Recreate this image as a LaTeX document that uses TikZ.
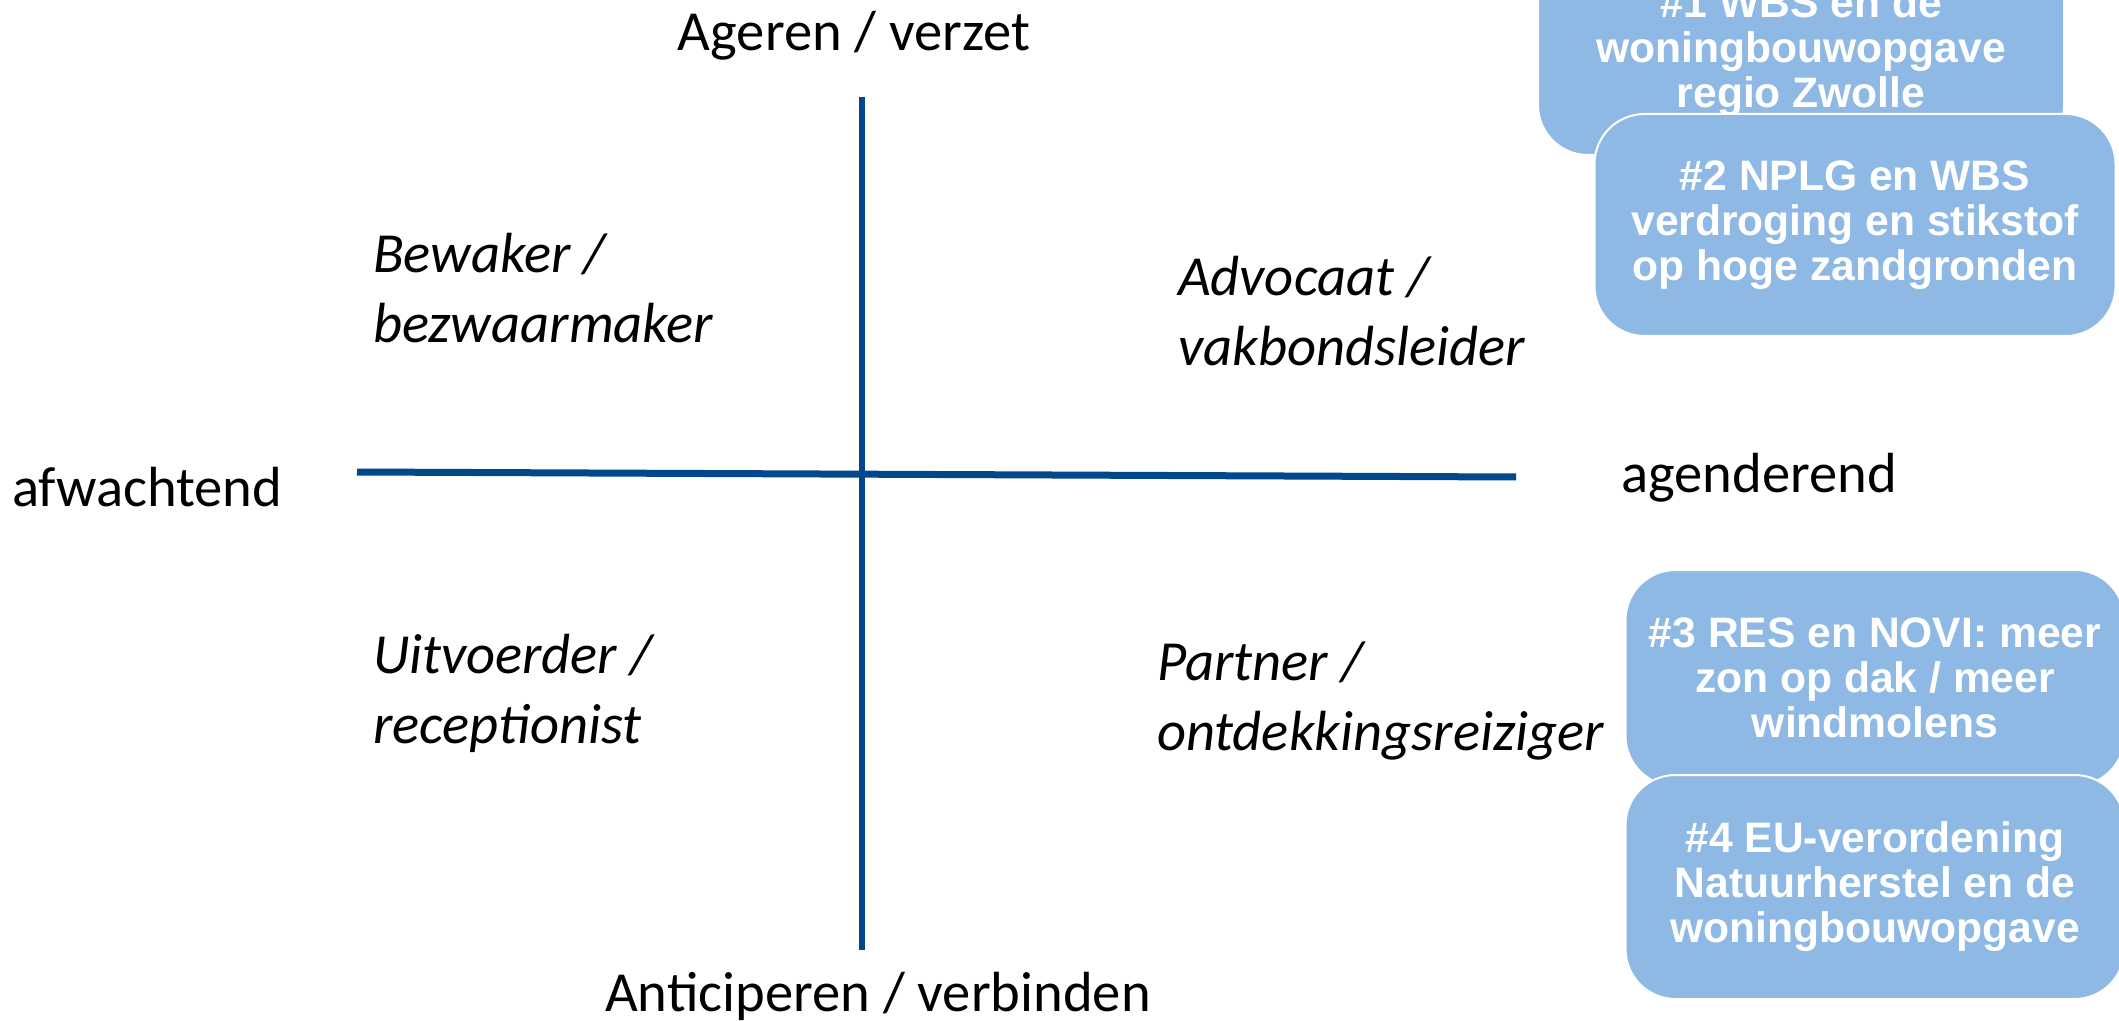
\documentclass[tikz,border=0pt]{standalone}
\usepackage{fontspec}
\setmainfont{Carlito}
\newfontfamily\themefont{Liberation Sans}
\usepackage{tikz}

\definecolor{axisblue}{RGB}{0,71,139}
\definecolor{themeblue}{RGB}{142,185,229}

\tikzset{
  axis/.style={draw=axisblue,line width=3.5pt},
  pole/.style={font=\fontsize{28.3}{33}\selectfont},
  role/.style={anchor=west,align=left,font=\itshape\fontsize{28.3}{35}\selectfont},
  theme/.style={fill=themeblue,draw=white,line width=1pt,rounded corners=25pt,
    inner sep=0pt,outer sep=0pt,align=center,text=white,
    font=\themefont\bfseries\fontsize{21.3}{22.5}\selectfont}
}

\begin{document}
\begin{tikzpicture}[x=0.5pt,y=-0.5pt]
  \useasboundingbox (0,0) rectangle (2119,1021);
  \clip (0,0) rectangle (2119,1021);

  % assen
  \coordinate (N) at (862,97);
  \coordinate (S) at (862,950);
  \coordinate (W) at (357,472);
  \coordinate (E) at (1516,477);
  \draw[axis,line width=2.6pt] (N)--(S);
  \draw[axis] (W)--(E);

  \node[pole] (ageren) at (854,36) {Ageren / verzet};
  \node[pole] (anticiperen) at (878,996) {Anticiperen / verbinden};
  \node[pole,anchor=west] (afwachtend) at (5,487) {afwachtend};
  \node[pole,anchor=west] (agenderend) at (1614,478) {agenderend};

  % rollen
  \node[role] (bewaker) at (366,288) {Bewaker /\\bezwaarmaker};
  \node[role] (advocaat) at (1171,311) {Advocaat /\\vakbondsleider};
  \node[role] (uitvoerder) at (366,693) {Uitvoerder /\\receptionist};
  \node[role] (partner) at (1150,701) {Partner /\\ontdekkingsreiziger};

  % thema's
  \node[theme,minimum width=263pt,minimum height=103pt] (t1) at (1801,52)
    {\#1 WBS en de\\woningbouwopgave\\regio Zwolle};
  \node[theme,minimum width=260.5pt,minimum height=111pt] (t2) at (1855,225)
    {\#2 NPLG en WBS\\verdroging en stikstof\\op hoge zandgronden};
  \node[theme,minimum width=249.5pt,minimum height=108pt] (t3) at (1875,678)
    {\#3 RES en NOVI: meer\\zon op dak / meer\\windmolens};
  \node[theme,minimum width=249.5pt,minimum height=112pt] (t4) at (1875,887)
    {\#4 EU-verordening\\Natuurherstel en de\\woningbouwopgave};
\end{tikzpicture}
\end{document}
